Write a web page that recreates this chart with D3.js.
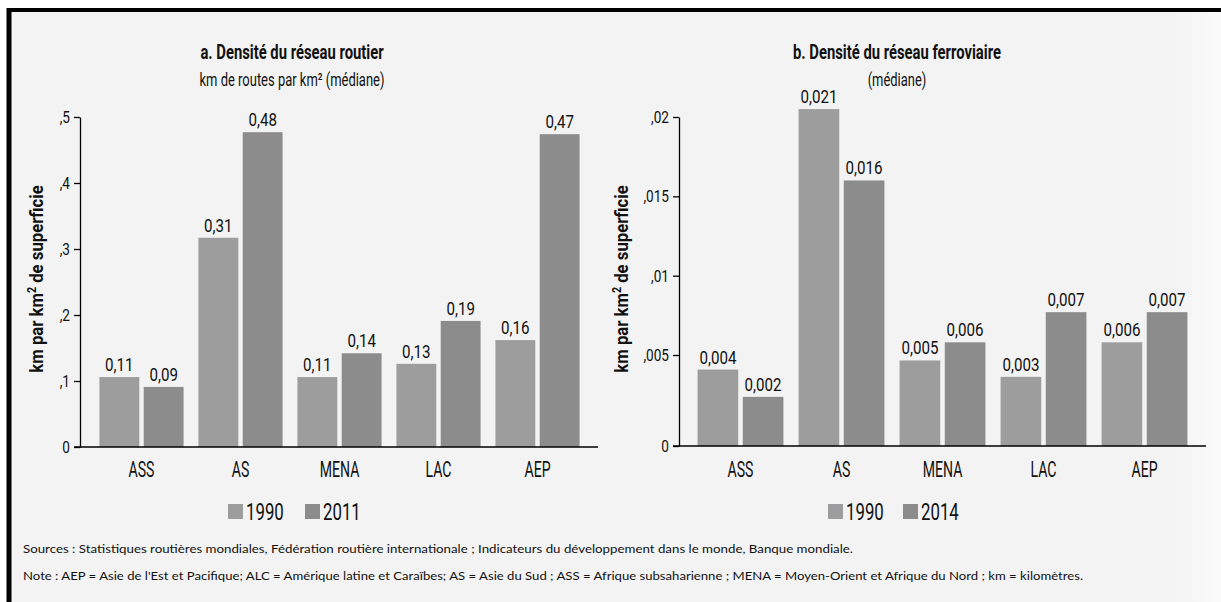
<!DOCTYPE html>
<html>
<head>
<meta charset="utf-8">
<script src="https://cdn.jsdelivr.net/npm/d3@7"></script>
<style>
body{margin:0;background:#fff;}
svg{display:block;}
.cond{font-family:"Roboto","Liberation Sans",sans-serif;fill:#111;}
.note{font-family:"Lato","Open Sans",sans-serif;font-size:11px;fill:#111;}
</style>
</head>
<body>
<svg></svg>
<script>
//categories on the x axis (same for both charts)
var regions = ["ASS","AS","MENA","LAC","AEP"];

//chart a : roads
var roadYears = ["1990","2011"];
var road1990 = [0.106,0.317,0.106,0.126,0.162];
var road2011 = [0.091,0.477,0.142,0.191,0.474];
var road1990Labels = ["0,11","0,31","0,11","0,13","0,16"];
var road2011Labels = ["0,09","0,48","0,14","0,19","0,47"];
var roadTicks = [0,0.1,0.2,0.3,0.4,0.5];
var roadTickLabels = ["0",",1",",2",",3",",4",",5"];

//chart b : railways
var railYears = ["1990","2014"];
var rail1990 = [0.0042,0.0205,0.0047,0.0038,0.0058];
var rail2014 = [0.0027,0.0160,0.0058,0.0077,0.0077];
var rail1990Labels = ["0,004","0,021","0,005","0,003","0,006"];
var rail2014Labels = ["0,002","0,016","0,006","0,007","0,007"];
var railTicks = [0,0.005,0.01,0.015,0.02];
var railTickLabels = ["0",",005",",01",",015",",02"];

var colors = ["#9d9d9d","#8c8c8c"];

var screen = {width:1221,height:602};

var svg = d3.select("svg")
    .attr("width",screen.width)
    .attr("height",screen.height);

//squeezes text horizontally, the original uses a condensed font
var condense = function(sel,f)
{
    sel.each(function()
    {
        var w = this.getComputedTextLength();
        d3.select(this)
            .attr("textLength",w*f)
            .attr("lengthAdjust","spacingAndGlyphs");
    });
}

//background and frame
var bg = svg.append("defs").append("linearGradient")
    .attr("id","bgfade").attr("x1","0").attr("x2","1").attr("y1","0").attr("y2","0");
bg.append("stop").attr("offset","0").attr("stop-color","#f3f3f3");
bg.append("stop").attr("offset","0.96").attr("stop-color","#f3f3f3");
bg.append("stop").attr("offset","1").attr("stop-color","#fbfbfb");

svg.append("rect")
    .attr("x",9).attr("y",10)
    .attr("width",screen.width-9).attr("height",screen.height-10)
    .attr("fill","url(#bgfade)");
svg.append("line")
    .attr("x1",9).attr("x2",screen.width).attr("y1",10).attr("y2",10)
    .attr("stroke","#000").attr("stroke-width",4);
svg.append("line")
    .attr("x1",9).attr("x2",9).attr("y1",8).attr("y2",screen.height)
    .attr("stroke","#000").attr("stroke-width",5);

//draws one grouped bar chart
//p holds the data and where the chart goes
var drawPanel = function(p)
{
    var g = svg.append("g").attr("class","panel");

    var xScale = d3.scaleBand()
        .domain(regions)
        .range(p.xRange)
        .paddingInner(0.15)
        .paddingOuter(0.075);

    var x1 = d3.scaleBand()
        .domain(p.years)
        .range([0,xScale.bandwidth()])
        .paddingInner(0.1);

    var yScale = d3.scaleLinear()
        .domain(p.yDomain)
        .range(p.yRange);

    var rows = regions.map(function(r,i)
    {
        return {region:r,
                vals:[{year:p.years[0],v:p.series[0][i],lab:p.labels[0][i]},
                      {year:p.years[1],v:p.series[1][i],lab:p.labels[1][i]}]};
    });

    var groups = g.selectAll("g.grp")
        .data(rows)
        .enter()
        .append("g")
        .attr("class","grp")
        .attr("transform",function(d){return "translate("+xScale(d.region)+",0)";});

    groups.selectAll("rect")
        .data(function(d){return d.vals;})
        .enter()
        .append("rect")
        .attr("x",function(d){return x1(d.year);})
        .attr("y",function(d){return yScale(d.v);})
        .attr("width",x1.bandwidth())
        .attr("height",function(d){return yScale(0)-yScale(d.v);})
        .attr("fill",function(d,i){return colors[i];});

    var vl = groups.selectAll("text")
        .data(function(d){return d.vals;})
        .enter()
        .append("text")
        .attr("class","cond")
        .attr("x",function(d){return x1(d.year)+x1.bandwidth()/2;})
        .attr("y",function(d){return yScale(d.v)-6;})
        .attr("text-anchor","middle")
        .attr("font-size",18)
        .text(function(d){return d.lab;});
    condense(vl,0.84);

    //y axis
    var yAxis = d3.axisLeft(yScale)
        .tickValues(p.ticks)
        .tickFormat(function(d,i){return p.tickLabels[i];})
        .tickSize(6)
        .tickSizeOuter(0);
    var ya = g.append("g")
        .attr("transform","translate("+p.axisX+",0)")
        .call(yAxis);
    ya.selectAll("path,line").attr("stroke","#000").attr("stroke-width",1.3);
    var tl = ya.selectAll("text")
        .attr("class","cond")
        .attr("font-size",17)
        .attr("font-family",null)
        .attr("x",-10);
    condense(tl,0.8);

    //x axis line and category names
    g.append("line")
        .attr("x1",p.axisX-6).attr("x2",p.xEnd)
        .attr("y1",yScale(0)).attr("y2",yScale(0))
        .attr("stroke","#000").attr("stroke-width",1.5);
    var cl = g.selectAll("text.cat")
        .data(regions)
        .enter()
        .append("text")
        .attr("class","cond cat")
        .attr("x",function(d){return xScale(d)+xScale.bandwidth()/2;})
        .attr("y",477)
        .attr("text-anchor","middle")
        .attr("font-size",22)
        .text(function(d){return d;});
    condense(cl,0.64);

    //titles
    var t1 = g.append("text")
        .attr("class","cond")
        .attr("x",p.titleX).attr("y",59)
        .attr("text-anchor","middle")
        .attr("font-size",20).attr("font-weight","bold")
        .text(p.title);
    condense(t1,0.74);
    var t2 = g.append("text")
        .attr("class","cond")
        .attr("x",p.titleX).attr("y",86)
        .attr("text-anchor","middle")
        .attr("font-size",18)
        .text(p.subtitle);
    condense(t2,0.72);

    //y label
    var yl = g.append("text")
        .attr("class","cond")
        .attr("transform","translate("+p.yLabelX+",279) rotate(-90)")
        .attr("text-anchor","middle")
        .attr("font-size",19).attr("font-weight","bold");
    yl.append("tspan").text("km par km");
    yl.append("tspan").attr("font-size",12).attr("dy",-7).text("2");
    yl.append("tspan").attr("dy",7).text(" de superficie");
    condense(yl,0.88);

    //legend
    var leg = g.selectAll("g.leg")
        .data(p.years)
        .enter()
        .append("g")
        .attr("class","leg")
        .attr("transform",function(d,i){return "translate("+p.legendX[i]+",504)";});
    leg.append("rect")
        .attr("width",15).attr("height",15)
        .attr("fill",function(d,i){return colors[i];});
    var lt = leg.append("text")
        .attr("class","cond")
        .attr("x",18).attr("y",16)
        .attr("font-size",24)
        .text(function(d){return d;});
    condense(lt,0.7);
}

drawPanel({
    years:roadYears,
    series:[road1990,road2011],
    labels:[road1990Labels,road2011Labels],
    ticks:roadTicks,
    tickLabels:roadTickLabels,
    yDomain:[0,0.5],
    yRange:[447,117],
    xRange:[92,587],
    axisX:80,
    xEnd:598,
    title:"a. Densité du réseau routier",
    subtitle:"km de routes par km² (médiane)",
    titleX:292,
    yLabelX:43,
    legendX:[228,305]
});

drawPanel({
    years:railYears,
    series:[rail1990,rail2014],
    labels:[rail1990Labels,rail2014Labels],
    ticks:railTicks,
    tickLabels:railTickLabels,
    yDomain:[0,0.005,0.02],
    yRange:[446,355,117],
    xRange:[690,1195],
    axisX:679,
    xEnd:1206,
    title:"b. Densité du réseau ferroviaire",
    subtitle:"(médiane)",
    titleX:897,
    yLabelX:628,
    legendX:[828,903]
});

//notes at the bottom
svg.append("text")
    .attr("class","note")
    .attr("x",23).attr("y",553)
    .attr("textLength",830).attr("lengthAdjust","spacingAndGlyphs")
    .text("Sources : Statistiques routières mondiales, Fédération routière internationale ; Indicateurs du développement dans le monde, Banque mondiale.");
svg.append("text")
    .attr("class","note")
    .attr("x",23).attr("y",580)
    .attr("textLength",1060).attr("lengthAdjust","spacingAndGlyphs")
    .text("Note : AEP = Asie de l'Est et Pacifique; ALC = Amérique latine et Caraïbes; AS = Asie du Sud ; ASS = Afrique subsaharienne ; MENA = Moyen-Orient et Afrique du Nord ; km = kilomètres.");
</script>
</body>
</html>
